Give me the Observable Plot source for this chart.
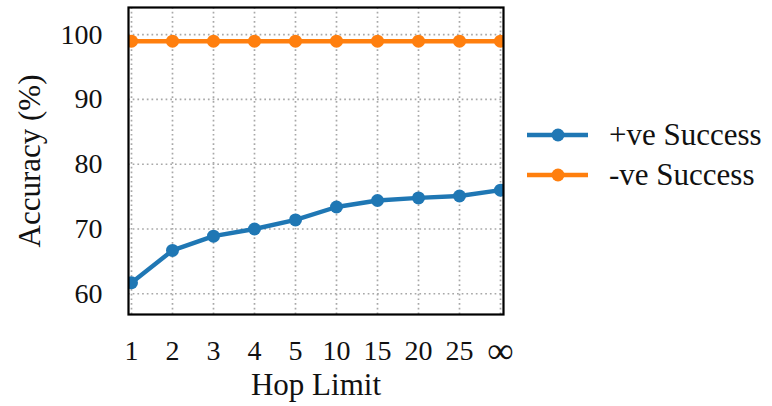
<!DOCTYPE html>
<html>
<head>
<meta charset="utf-8">
<script src="https://cdn.jsdelivr.net/npm/d3@7"></script>
<script src="https://cdn.jsdelivr.net/npm/@observablehq/plot@0.6"></script>
<style>
  html, body { margin: 0; padding: 0; background: #fff; }
  #chart { width: 772px; height: 406px; }
</style>
</head>
<body>
<div id="chart"></div>
<script>
const hopLimits = ["1", "2", "3", "4", "5", "10", "15", "20", "25", "∞"];
const positiveSuccess = [61.7, 66.7, 68.9, 70.0, 71.4, 73.4, 74.4, 74.8, 75.1, 76.0];
const negativeSuccess = [99.0, 99.0, 99.0, 99.0, 99.0, 99.0, 99.0, 99.0, 99.0, 99.0];
const yTicks = [60, 70, 80, 90, 100];
const seriesNames = ["+ve Success", "-ve Success"];
const seriesColors = ["#1f77b4", "#ff7f0e"];
const xLabel = "Hop Limit";
const yLabel = "Accuracy (%)";

const rows = [];
hopLimits.forEach((h, i) => {
  rows.push({hop: h, value: positiveSuccess[i], series: seriesNames[0]});
});
hopLimits.forEach((h, i) => {
  rows.push({hop: h, value: negativeSuccess[i], series: seriesNames[1]});
});

const FONT = "Liberation Serif, DejaVu Serif, serif";
const TICK_FS = 28;
const LABEL_FS = 31;

const plot = Plot.plot({
  width: 772,
  height: 406,
  marginLeft: 128,
  marginRight: 269,
  marginTop: 7,
  marginBottom: 92,
  style: {fontFamily: FONT, fontSize: TICK_FS + "px", color: "#111", background: "#fff"},
  x: {type: "point", domain: hopLimits, padding: 0, axis: null},
  y: {domain: [56.8, 104.2]},
  color: {domain: seriesNames, range: seriesColors},
  marks: [
    Plot.gridX(hopLimits, {stroke: "#a8a8a8", strokeOpacity: 1, strokeWidth: 1.7, strokeDasharray: "1.7,3"}),
    Plot.gridY(yTicks, {stroke: "#a8a8a8", strokeOpacity: 1, strokeWidth: 1.7, strokeDasharray: "1.7,3"}),
    Plot.text(hopLimits, {
      filter: d => d !== "∞",
      x: d => d, text: d => d, frameAnchor: "bottom", dy: 37, lineAnchor: "middle", textAnchor: "middle",
      fontSize: TICK_FS, fontFamily: FONT, fill: "#111"
    }),
    Plot.text(hopLimits, {
      filter: d => d === "∞",
      x: d => d, text: d => d, frameAnchor: "bottom", dy: 37, lineAnchor: "middle", textAnchor: "middle",
      fontSize: 37, fontFamily: FONT, fill: "#111"
    }),
    Plot.axisY(yTicks, {tickSize: 0, tickPadding: 26, label: null, fontSize: TICK_FS, fontFamily: FONT, fill: "#111"}),
    Plot.line(rows, {x: "hop", y: "value", z: "series", stroke: "series", strokeWidth: 4.4, clip: true}),
    Plot.dot(rows, {x: "hop", y: "value", fill: "series", r: 6.5, clip: true}),
    Plot.frame({stroke: "black", strokeWidth: 2.2}),
    Plot.text([xLabel], {text: d => d, frameAnchor: "bottom", dy: 71, lineAnchor: "middle", textAnchor: "middle", fontSize: LABEL_FS, fontFamily: FONT, fill: "#111"}),
    Plot.text([yLabel], {text: d => d, frameAnchor: "left", dx: -98, rotate: -90, lineAnchor: "middle", textAnchor: "middle", fontSize: LABEL_FS, fontFamily: FONT, fill: "#111"})
  ]
});

document.getElementById("chart").appendChild(plot);

// Legend in the right margin
const svg = d3.select(plot);
const legend = svg.append("g")
  .attr("font-family", FONT)
  .attr("font-size", LABEL_FS + "px")
  .attr("text-anchor", "start");
seriesNames.forEach((name, i) => {
  const y = 135 + i * 40;
  const g = legend.append("g").attr("transform", `translate(0,${y})`);
  g.append("line").attr("x1", 527).attr("x2", 588).attr("y1", 0).attr("y2", 0)
    .attr("stroke", seriesColors[i]).attr("stroke-width", 4.4);
  g.append("circle").attr("cx", 558).attr("cy", 0).attr("r", 6.5).attr("fill", seriesColors[i]);
  g.append("text").attr("x", 609).attr("y", 0).attr("dy", "0.32em")
    .attr("text-anchor", "start").attr("fill", "#111").text(name);
});
</script>
</body>
</html>
